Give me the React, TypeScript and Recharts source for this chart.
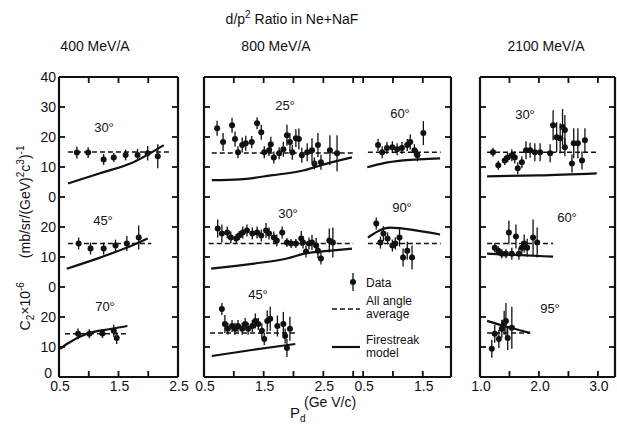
import React from "react";
import { ComposedChart, Scatter, Line, XAxis, YAxis, ErrorBar, ReferenceLine } from "recharts";

type Pt = [number, number, number]; // p_d, C2, error
type XY = [number, number];

// ---- 400 MeV/A ----
const d400_30: Pt[] = [[0.8, 14.8, 2], [0.99, 14.8, 1.8], [1.25, 12.5, 1.8], [1.42, 13.2, 1.5], [1.62, 14, 1.8], [1.82, 14, 2], [1.99, 14.6, 2.4], [2.16, 13.6, 4]];
const avg400_30: XY[] = [[0.65, 15], [2.38, 15]];
const fs400_30: XY[] = [[0.65, 4.5], [1.19, 7.9], [1.75, 11.6], [2.26, 17.3]];

const d400_45: Pt[] = [[0.83, 14.5, 2], [1.03, 12.8, 2], [1.25, 12.8, 2], [1.45, 13.8, 2], [1.64, 14.5, 2.5], [1.84, 16.5, 4]];
const avg400_45: XY[] = [[0.65, 14.5], [2.05, 14.5]];
const fs400_45: XY[] = [[0.63, 6.1], [1.19, 9.8], [1.6, 12.8], [1.99, 16.2]];

const d400_70: Pt[] = [[0.82, 14.4, 1.8], [1.01, 14.4, 1.5], [1.23, 14.5, 1.5], [1.42, 15.4, 2], [1.47, 13, 2]];
const avg400_70: XY[] = [[0.6, 14.4], [1.67, 14.4]];
const fs400_70: XY[] = [[0.52, 9.4], [0.63, 11], [0.97, 14.4], [1.36, 16], [1.65, 17]];

// ---- 800 MeV/A ----
const d800_25: Pt[] = [[0.72, 22.9, 2.5], [0.82, 18.3, 3], [0.97, 23.9, 2.5], [1.02, 19.3, 2.5], [1.07, 14.9, 2], [1.14, 17.3, 2.5], [1.2, 17.9, 2.5], [1.3, 18.3, 2], [1.39, 24.6, 2], [1.46, 21.6, 2.5], [1.51, 14.9, 2], [1.59, 15.6, 2], [1.62, 17.6, 2.5], [1.67, 13.2, 2], [1.76, 14.6, 2], [1.83, 15.9, 2.5], [1.89, 20.6, 3.5], [1.94, 18.3, 3], [1.98, 14.9, 2.5], [2.04, 19.6, 3], [2.09, 19.3, 3.5], [2.14, 13.9, 2.5], [2.23, 14.9, 3], [2.31, 15.6, 4], [2.35, 11.2, 2], [2.41, 17.3, 4], [2.46, 11.6, 2.5], [2.61, 15.6, 5], [2.73, 14.6, 6]];
const avg800_25: XY[] = [[0.63, 14.7], [3.0, 14.7]];
const fs800_25: XY[] = [[0.63, 5.6], [1.1, 5.9], [1.62, 7.2], [2.18, 8.9], [2.46, 10.6], [2.98, 13.2]];

const d800_60: Pt[] = [[0.75, 17.3, 2], [0.82, 14.9, 2], [0.9, 16.3, 2], [0.99, 16.6, 2], [1.07, 15.9, 2], [1.15, 16.3, 2], [1.24, 17.3, 2], [1.29, 18.3, 2.5], [1.36, 15.6, 2], [1.41, 13.9, 2], [1.51, 21.3, 4]];
const avg800_60: XY[] = [[0.58, 14.9], [1.8, 14.9]];
const fs800_60: XY[] = [[0.57, 9.9], [0.85, 11.3], [1.17, 12.2], [1.79, 12.9]];

const d800_30: Pt[] = [[0.73, 19.5, 3], [0.8, 17.8, 3], [0.89, 18.2, 2], [0.95, 16.5, 2], [1.04, 16.2, 1.5], [1.09, 17.2, 1.5], [1.15, 18.2, 2], [1.22, 18.8, 2], [1.31, 17.8, 2], [1.39, 18.2, 2], [1.46, 17.2, 2], [1.54, 18.8, 2.5], [1.59, 17.8, 2], [1.67, 16.5, 2], [1.72, 15.5, 2], [1.81, 18.2, 2], [1.89, 14.8, 1.5], [1.96, 14.5, 1.5], [2.04, 14.5, 1.5], [2.13, 16.2, 2.5], [2.16, 14.8, 2], [2.21, 11.8, 2], [2.26, 14.5, 2], [2.31, 14.8, 2.5], [2.38, 13.8, 2.5], [2.41, 12.1, 2.5], [2.46, 9.5, 2], [2.6, 15.5, 4], [2.66, 14.8, 5]];
const avg800_30: XY[] = [[0.58, 14.5], [3.0, 14.5]];
const fs800_30: XY[] = [[0.62, 6.1], [1.34, 7.8], [1.89, 9.5], [2.18, 11.1], [2.63, 12.1], [2.98, 12.8]];

const d800_90: Pt[] = [[0.72, 21.2, 2], [0.79, 14.8, 2], [0.84, 17.8, 2.5], [0.91, 16.2, 2], [0.99, 13.8, 2], [1.04, 14.5, 2], [1.11, 16.5, 3], [1.17, 9.8, 3], [1.24, 12.1, 3], [1.32, 9.8, 4]];
const avg800_90: XY[] = [[0.58, 14.5], [1.8, 14.5]];
const fs800_90: XY[] = [[0.58, 16.5], [0.95, 19.8], [1.41, 18.8], [1.79, 17.5]];

const d800_45: Pt[] = [[0.8, 22.7, 2], [0.85, 17.7, 3], [0.9, 16.1, 2], [0.97, 17, 2], [1.02, 16.1, 2], [1.07, 17, 2], [1.14, 16.1, 2], [1.19, 17.7, 2], [1.24, 16.1, 2], [1.31, 17, 2], [1.36, 18.7, 2.5], [1.41, 17.7, 2], [1.47, 15.4, 2.5], [1.51, 12.7, 2], [1.56, 18.7, 3.5], [1.61, 19.4, 4], [1.73, 17, 3.5], [1.83, 17.7, 4], [1.86, 13.7, 2.5], [1.89, 9.7, 3], [1.94, 16.1, 4]];
const avg800_45: XY[] = [[0.6, 14.7], [2.07, 14.7]];
const fs800_45: XY[] = [[0.63, 7], [1.3, 9], [2.03, 11]];

// ---- 2100 MeV/A ----
const d2100_30: Pt[] = [[1.22, 14.9, 1.5], [1.31, 10.6, 1.5], [1.42, 12.2, 1.5], [1.47, 13.2, 1.5], [1.54, 13.9, 2], [1.59, 13.2, 2], [1.64, 9.6, 2], [1.71, 11.6, 2], [1.78, 15.6, 3], [1.85, 15.6, 2.5], [1.93, 14.9, 3], [2.02, 14.9, 3], [2.19, 14.6, 3], [2.24, 23.9, 5], [2.3, 19.9, 5], [2.36, 19.6, 5], [2.4, 23.3, 6], [2.44, 22.3, 5], [2.44, 16.6, 3], [2.56, 11.2, 3], [2.59, 17.9, 5], [2.66, 17.9, 5], [2.73, 12.2, 3], [2.78, 18.9, 4]];
const avg2100_30: XY[] = [[1.12, 14.9], [2.98, 14.9]];
const fs2100_30: XY[] = [[1.12, 6.9], [2.0, 7.2], [2.98, 7.9]];

const d2100_60: Pt[] = [[1.25, 13.1, 1.5], [1.31, 12.1, 1.5], [1.37, 11.1, 1.5], [1.44, 11.1, 1.5], [1.49, 18.2, 4], [1.54, 11.1, 2], [1.61, 16.8, 4], [1.66, 11.1, 2], [1.71, 13.1, 2], [1.75, 14.5, 3], [1.8, 13.1, 3], [1.9, 16.5, 6], [1.97, 14.8, 5]];
const avg2100_60: XY[] = [[1.12, 14.5], [2.24, 14.5]];
const fs2100_60: XY[] = [[1.12, 11.1], [1.7, 10.6], [2.24, 10.1]];

const d2100_95: Pt[] = [[1.2, 9.4, 3], [1.25, 14.4, 3], [1.32, 12.7, 3], [1.37, 16.1, 3], [1.41, 18.1, 4], [1.44, 18.7, 6], [1.47, 13, 4], [1.54, 16.4, 7]];
const avg2100_95: XY[] = [[1.12, 14.7], [1.85, 14.7]];
const fs2100_95: XY[] = [[1.12, 18.7], [1.5, 16.5], [1.85, 14.7]];

const yTicks = [0, 10, 20, 30, 40, 50, 60, 70, 80, 90, 100];

const W = 617;
const H = 428;
const TOP = 77;
const BOT = 377;
const INK = "#111";
const FONT = "'Liberation Sans', Arial, sans-serif";

// the three stacked frames share one y scale: bottom +0, middle +30, top +60
const yLabel = (v: number) => String(v >= 60 ? v - 60 : v >= 30 ? v - 30 : v);

// 800 MeV/A: the 60°/90° frame sits right of the 25°/30°/45° one on the same axis
const RIGHT_OFF = 2.667;

interface Sub { pts: Pt[]; avg: XY[]; fs: XY[]; off: number; dx?: number }

const subs400: Sub[] = [
  { pts: d400_30, avg: avg400_30, fs: fs400_30, off: 60 },
  { pts: d400_45, avg: avg400_45, fs: fs400_45, off: 30 },
  { pts: d400_70, avg: avg400_70, fs: fs400_70, off: 0 },
];
const subs800: Sub[] = [
  { pts: d800_25, avg: avg800_25, fs: fs800_25, off: 60 },
  { pts: d800_60, avg: avg800_60, fs: fs800_60, off: 60, dx: RIGHT_OFF },
  { pts: d800_30, avg: avg800_30, fs: fs800_30, off: 30 },
  { pts: d800_90, avg: avg800_90, fs: fs800_90, off: 30, dx: RIGHT_OFF },
  { pts: d800_45, avg: avg800_45, fs: fs800_45, off: 0 },
];
const subs2100: Sub[] = [
  { pts: d2100_30, avg: avg2100_30, fs: fs2100_30, off: 60 },
  { pts: d2100_60, avg: avg2100_60, fs: fs2100_60, off: 30 },
  { pts: d2100_95, avg: avg2100_95, fs: fs2100_95, off: 0 },
];

const ptsOf = (s: Sub) => s.pts.map(([x, y, e]) => ({ x: x + (s.dx || 0), y: y + s.off, e }));
const xyOf = (l: XY[], s: Sub) => l.map(([x, y]) => ({ x: x + (s.dx || 0), y: y + s.off }));

const isHalfOdd = (v: number) => Math.abs(v * 2 - Math.round(v * 2)) < 1e-6 && Math.round(v * 2) % 2 === 1;
const isWhole = (v: number) => Math.abs(v - Math.round(v)) < 1e-6;

const dot = (p: any) => <circle cx={p.cx} cy={p.cy} r={3} fill={INK} />;

interface PanelProps {
  left: number;
  right: number;
  domain: [number, number];
  xTicks: number[];
  xText: (v: number) => string | null;
  showY: boolean;
  subs: Sub[];
}

function Panel({ left, right, domain, xTicks, xText, showY, subs }: PanelProps) {
  const yTick = (p: any) => {
    const v = p.payload.value;
    // the bottom "0" sits up and left of the corner, clear of the "0.5"
    const lx = v === 0 ? left - 7 : left - 3;
    const ly = v === 0 ? p.y + 1 : p.y + 5;
    return (
      <g>
        <line x1={left} x2={left + 6} y1={p.y} y2={p.y} stroke={INK} strokeWidth={1.8} />
        <line x1={right - 6} x2={right} y1={p.y} y2={p.y} stroke={INK} strokeWidth={1.8} />
        {showY && (
          <text x={lx} y={ly} textAnchor="end" fontSize={14} fontFamily={FONT} fill={INK}>
            {yLabel(v)}
          </text>
        )}
      </g>
    );
  };
  const xTick = (p: any) => {
    const t = xText(p.payload.value);
    return (
      <g>
        <line x1={p.x} x2={p.x} y1={BOT} y2={BOT - 6} stroke={INK} strokeWidth={1.8} />
        <line x1={p.x} x2={p.x} y1={TOP} y2={TOP + 6} stroke={INK} strokeWidth={1.8} />
        {t && (
          <text x={p.x + 1} y={391} textAnchor="middle" fontSize={14} fontFamily={FONT} fill={INK}>
            {t}
          </text>
        )}
      </g>
    );
  };
  return (
    <div style={{ position: "absolute", left: 0, top: 0 }}>
      <ComposedChart width={W} height={H} margin={{ top: TOP, right: W - right, bottom: H - BOT - 30, left: left - 40 }}>
        <XAxis type="number" dataKey="x" domain={domain} allowDataOverflow ticks={xTicks} interval={0} height={30}
          tickLine={false} axisLine={{ stroke: INK, strokeWidth: 2.2 }} tick={xTick} />
        <YAxis type="number" dataKey="y" domain={[0, 100]} allowDataOverflow ticks={yTicks} interval={0} width={40}
          tickLine={false} axisLine={{ stroke: INK, strokeWidth: 2.2 }} tick={yTick} />
        <ReferenceLine y={100} stroke={INK} strokeWidth={2.2} />
        <ReferenceLine x={domain[1]} stroke={INK} strokeWidth={2.2} />
        {subs.map((s, i) => (
          <React.Fragment key={i}>
            <Line data={xyOf(s.avg, s)} dataKey="y" type="linear" stroke={INK} strokeWidth={1.5}
              strokeDasharray="5 3" dot={false} isAnimationActive={false} />
            <Line data={xyOf(s.fs, s)} dataKey="y" type="monotone" stroke={INK} strokeWidth={2.2}
              dot={false} isAnimationActive={false} />
            <Scatter data={ptsOf(s)} dataKey="y" shape={dot} isAnimationActive={false}>
              <ErrorBar dataKey="e" direction="y" width={0} stroke={INK} strokeWidth={1.3} />
            </Scatter>
          </React.Fragment>
        ))}
      </ComposedChart>
    </div>
  );
}

const txt = { fontFamily: FONT, fill: INK } as const;

export default function App() {
  return (
    <div style={{ position: "absolute", left: 0, top: 0, width: W, height: H, background: "#fff" }}>
      <Panel left={59} right={178} domain={[0.5, 2.5]} xTicks={[0.5, 1, 1.5, 2, 2.5]}
        xText={(v) => (isHalfOdd(v) ? v.toFixed(1) : null)} showY subs={subs400} />
      <Panel left={204} right={451} domain={[0.5, 4.64]}
        xTicks={[0.5, 1, 1.5, 2, 2.5, 3, 0.5 + RIGHT_OFF, 1 + RIGHT_OFF, 1.5 + RIGHT_OFF]}
        xText={(v) => {
          const lv = v > 3.05 ? v - RIGHT_OFF : v;
          return isHalfOdd(lv) ? lv.toFixed(1) : null;
        }}
        showY={false} subs={subs800} />
      <Panel left={480} right={615} domain={[1, 3.29]} xTicks={[1, 1.5, 2, 2.5, 3]}
        xText={(v) => (isWhole(v) ? v.toFixed(1) : null)} showY={false} subs={subs2100} />

      <svg width={W} height={H} style={{ position: "absolute", left: 0, top: 0, pointerEvents: "none" }}>
        <text x={292} y={24} textAnchor="middle" fontSize={14} {...txt}>
          d/p<tspan dy={-6} fontSize={10}>2</tspan><tspan dy={6}> Ratio in Ne+NaF</tspan>
        </text>
        <text x={95} y={51} textAnchor="middle" fontSize={14} {...txt}>400 MeV/A</text>
        <text x={276} y={51} textAnchor="middle" fontSize={14} {...txt}>800 MeV/A</text>
        <text x={546} y={51} textAnchor="middle" fontSize={14} {...txt}>2100 MeV/A</text>

        <text x={104} y={132} textAnchor="middle" fontSize={13} {...txt}>30°</text>
        <text x={103} y={225} textAnchor="middle" fontSize={13} {...txt}>45°</text>
        <text x={105} y={311} textAnchor="middle" fontSize={13} {...txt}>70°</text>
        <text x={285} y={110} textAnchor="middle" fontSize={13} {...txt}>25°</text>
        <text x={400} y={118} textAnchor="middle" fontSize={13} {...txt}>60°</text>
        <text x={288} y={218} textAnchor="middle" fontSize={13} {...txt}>30°</text>
        <text x={402} y={212} textAnchor="middle" fontSize={13} {...txt}>90°</text>
        <text x={258} y={299} textAnchor="middle" fontSize={13} {...txt}>45°</text>
        <text x={525} y={119} textAnchor="middle" fontSize={13} {...txt}>30°</text>
        <text x={567} y={222} textAnchor="middle" fontSize={13} {...txt}>60°</text>
        <text x={550} y={313} textAnchor="middle" fontSize={13} {...txt}>95°</text>

        {/* legend */}
        <line x1={353} x2={353} y1={273} y2={291} stroke={INK} strokeWidth={1.3} />
        <circle cx={353} cy={282} r={3} fill={INK} />
        <text x={366} y={287} fontSize={12} {...txt}>Data</text>
        <line x1={332} x2={360} y1={309} y2={309} stroke={INK} strokeWidth={1.5} strokeDasharray="5 3" />
        <text x={366} y={305} fontSize={12} {...txt}>All angle</text>
        <text x={366} y={318} fontSize={12} {...txt}>average</text>
        <line x1={332} x2={360} y1={347} y2={347} stroke={INK} strokeWidth={2.2} />
        <text x={366} y={344} fontSize={12} {...txt}>Firestreak</text>
        <text x={366} y={357} fontSize={12} {...txt}>model</text>

        {/* axis titles */}
        <text transform="translate(30,238) rotate(-90)" textAnchor="middle" fontSize={14} {...txt}>
          C<tspan dy={4} fontSize={10}>2</tspan><tspan dy={-4}>×10</tspan><tspan dy={-6} fontSize={10}>-6</tspan>
          <tspan dy={6} dx={24}>(mb/sr/(GeV)</tspan><tspan dy={-6} fontSize={10}>2</tspan><tspan dy={6}>c</tspan>
          <tspan dy={-6} fontSize={10}>3</tspan><tspan dy={6}>)</tspan><tspan dy={-6} fontSize={10}>-1</tspan>
        </text>
        <text x={290} y={418} fontSize={15} {...txt}>P<tspan dy={4} fontSize={10}>d</tspan></text>
        <text x={304} y={407} fontSize={14} {...txt}>(Ge V/c)</text>
      </svg>
    </div>
  );
}
